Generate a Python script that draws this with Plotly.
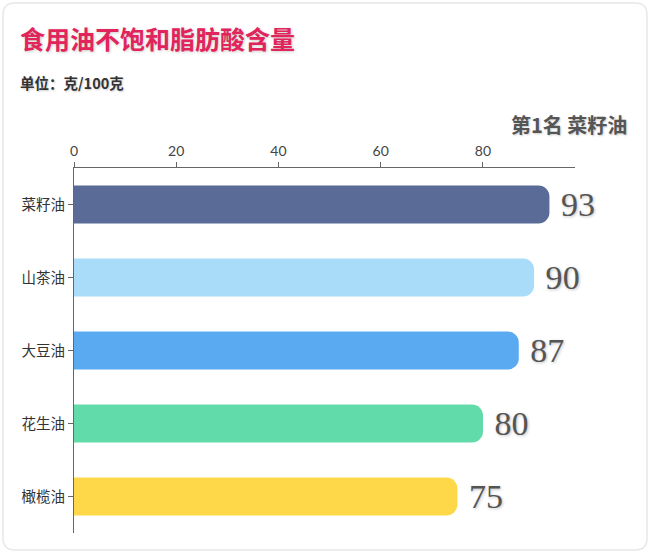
import plotly.graph_objects as go

categories = ["菜籽油", "山茶油", "大豆油", "花生油", "橄榄油"]
values = [93, 90, 87, 80, 75]
colors = ["#5a6b97", "#a8dcf8", "#5aaaf2", "#62dbab", "#ffd84a"]
tick_vals = [0, 20, 40, 60, 80]

fig = go.Figure()
fig.add_trace(go.Bar(
    y=categories, x=values, orientation="h",
    marker=dict(color=colors, cornerradius=11, line=dict(width=0)),
    width=0.52,
    text=values, texttemplate=" %{x}", textposition="outside",
    textfont=dict(family="Liberation Serif, DejaVu Serif, serif", size=35, color="#555555",
                  shadow="1px 1px 3px rgba(0,0,0,0.25)"),
    cliponaxis=False, hoverinfo="skip",
))

L, R, T, B = 74, 75, 168, 21
fig.update_layout(
    width=650, height=554,
    margin=dict(l=L, r=R, t=T, b=B),
    paper_bgcolor="white", plot_bgcolor="white",
    showlegend=False,
    font=dict(family="Noto Sans CJK SC", color="#333"),
    xaxis=dict(side="top", range=[0, 98], tickvals=tick_vals,
               showgrid=False, zeroline=False, showline=True, linecolor="#666", linewidth=1,
               ticks="outside", ticklen=5, tickcolor="#666",
               tickfont=dict(family="Lato, Noto Sans, sans-serif", size=14, color="#444")),
    yaxis=dict(categoryorder="array", categoryarray=categories[::-1],
               showgrid=False, zeroline=False, showline=True, linecolor="#666", linewidth=1,
               ticks="outside", ticklen=5, tickcolor="#666",
               tickfont=dict(family="Noto Sans CJK SC", size=14.5, color="#333")),
)

# card border
x0, y0, x1, y1, r = 3, 3, 647, 550, 12
def px(x): return (x - L) / (650 - L - R)
def py(y): return 1 - (y - T) / (554 - T - B)
path = (f"M {px(x0+r)},{py(y0)} L {px(x1-r)},{py(y0)} Q {px(x1)},{py(y0)} {px(x1)},{py(y0+r)} "
        f"L {px(x1)},{py(y1-r)} Q {px(x1)},{py(y1)} {px(x1-r)},{py(y1)} "
        f"L {px(x0+r)},{py(y1)} Q {px(x0)},{py(y1)} {px(x0)},{py(y1-r)} "
        f"L {px(x0)},{py(y0+r)} Q {px(x0)},{py(y0)} {px(x0+r)},{py(y0)} Z")
fig.add_shape(type="path", xref="paper", yref="paper", path=path,
              line=dict(color="#e8e8e8", width=1.5), fillcolor="rgba(0,0,0,0)", layer="below")

fig.add_annotation(text="<b>食用油不饱和脂肪酸含量</b>", xref="paper", yref="paper",
                   x=px(18), y=py(38), xanchor="left", yanchor="middle", showarrow=False,
                   font=dict(family="Noto Sans CJK SC", size=25, color="#e2245c",
                             shadow="1px 1px 3px rgba(0,0,0,0.2)"))
fig.add_annotation(text="<b>单位：克/100克</b>", xref="paper", yref="paper",
                   x=px(18), y=py(82), xanchor="left", yanchor="middle", showarrow=False,
                   font=dict(family="Noto Sans CJK SC", size=14.5, color="#333",
                             shadow="1px 1px 2px rgba(0,0,0,0.2)"))
fig.add_annotation(text="<b>第1名 菜籽油</b>", xref="paper", yref="paper",
                   x=px(629), y=py(124), xanchor="right", yanchor="middle", showarrow=False,
                   font=dict(family="Noto Sans CJK SC", size=20, color="#555",
                             shadow="1px 1px 2px rgba(0,0,0,0.2)"))

fig.write_html("out.html")
